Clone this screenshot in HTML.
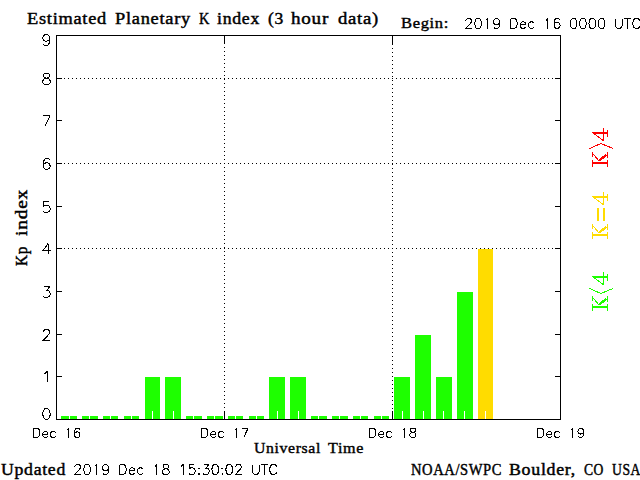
<!DOCTYPE html>
<html><head><meta charset="utf-8"><style>
html,body{margin:0;padding:0;background:#fff;width:640px;height:480px;overflow:hidden}
svg{display:block}
</style></head><body>
<svg width="640" height="480" viewBox="0 0 640 480">
<rect x="0" y="0" width="640" height="480" fill="#fff"/>
<g shape-rendering="crispEdges">
<rect x="61" y="416" width="16" height="3" fill="#1eff00"/>
<rect x="69" y="411" width="1" height="8" fill="#fff"/>
<rect x="82" y="416" width="16" height="3" fill="#1eff00"/>
<rect x="89" y="411" width="1" height="8" fill="#fff"/>
<rect x="103" y="416" width="15" height="3" fill="#1eff00"/>
<rect x="110" y="411" width="1" height="8" fill="#fff"/>
<rect x="124" y="416" width="15" height="3" fill="#1eff00"/>
<rect x="131" y="411" width="1" height="8" fill="#fff"/>
<rect x="145" y="377" width="15" height="42" fill="#1eff00"/>
<rect x="152" y="411" width="1" height="8" fill="#fff"/>
<rect x="165" y="377" width="16" height="42" fill="#1eff00"/>
<rect x="173" y="411" width="1" height="8" fill="#fff"/>
<rect x="186" y="416" width="16" height="3" fill="#1eff00"/>
<rect x="193" y="411" width="1" height="8" fill="#fff"/>
<rect x="207" y="416" width="16" height="3" fill="#1eff00"/>
<rect x="214" y="411" width="1" height="8" fill="#fff"/>
<rect x="228" y="416" width="15" height="3" fill="#1eff00"/>
<rect x="235" y="411" width="1" height="8" fill="#fff"/>
<rect x="249" y="416" width="15" height="3" fill="#1eff00"/>
<rect x="256" y="411" width="1" height="8" fill="#fff"/>
<rect x="269" y="377" width="16" height="42" fill="#1eff00"/>
<rect x="277" y="411" width="1" height="8" fill="#fff"/>
<rect x="290" y="377" width="16" height="42" fill="#1eff00"/>
<rect x="298" y="411" width="1" height="8" fill="#fff"/>
<rect x="311" y="416" width="16" height="3" fill="#1eff00"/>
<rect x="318" y="411" width="1" height="8" fill="#fff"/>
<rect x="332" y="416" width="16" height="3" fill="#1eff00"/>
<rect x="339" y="411" width="1" height="8" fill="#fff"/>
<rect x="353" y="416" width="15" height="3" fill="#1eff00"/>
<rect x="360" y="411" width="1" height="8" fill="#fff"/>
<rect x="374" y="416" width="15" height="3" fill="#1eff00"/>
<rect x="381" y="411" width="1" height="8" fill="#fff"/>
<rect x="394" y="377" width="16" height="42" fill="#1eff00"/>
<rect x="402" y="411" width="1" height="8" fill="#fff"/>
<rect x="415" y="335" width="16" height="84" fill="#1eff00"/>
<rect x="423" y="411" width="1" height="8" fill="#fff"/>
<rect x="436" y="377" width="16" height="42" fill="#1eff00"/>
<rect x="443" y="411" width="1" height="8" fill="#fff"/>
<rect x="457" y="292" width="16" height="127" fill="#1eff00"/>
<rect x="464" y="411" width="1" height="8" fill="#fff"/>
<rect x="478" y="249" width="15" height="170" fill="#ffdc00"/>
<rect x="485" y="411" width="1" height="8" fill="#fff"/>
<rect x="224" y="36" width="1" height="8" fill="#000"/>
<rect x="224" y="411" width="1" height="8" fill="#000"/>
<rect x="392" y="36" width="1" height="9" fill="#000"/>
<rect x="392" y="411" width="1" height="8" fill="#000"/>
<path d="M64 248h1v1h-1zM68 248h1v1h-1zM72 248h1v1h-1zM76 248h1v1h-1zM80 248h1v1h-1zM84 248h1v1h-1zM88 248h1v1h-1zM92 248h1v1h-1zM96 248h1v1h-1zM100 248h1v1h-1zM104 248h1v1h-1zM108 248h1v1h-1zM112 248h1v1h-1zM116 248h1v1h-1zM120 248h1v1h-1zM124 248h1v1h-1zM128 248h1v1h-1zM132 248h1v1h-1zM136 248h1v1h-1zM140 248h1v1h-1zM144 248h1v1h-1zM148 248h1v1h-1zM152 248h1v1h-1zM156 248h1v1h-1zM160 248h1v1h-1zM164 248h1v1h-1zM168 248h1v1h-1zM172 248h1v1h-1zM176 248h1v1h-1zM180 248h1v1h-1zM184 248h1v1h-1zM188 248h1v1h-1zM192 248h1v1h-1zM196 248h1v1h-1zM200 248h1v1h-1zM204 248h1v1h-1zM208 248h1v1h-1zM212 248h1v1h-1zM216 248h1v1h-1zM220 248h1v1h-1zM224 248h1v1h-1zM228 248h1v1h-1zM232 248h1v1h-1zM236 248h1v1h-1zM240 248h1v1h-1zM244 248h1v1h-1zM248 248h1v1h-1zM252 248h1v1h-1zM256 248h1v1h-1zM260 248h1v1h-1zM264 248h1v1h-1zM268 248h1v1h-1zM272 248h1v1h-1zM276 248h1v1h-1zM280 248h1v1h-1zM284 248h1v1h-1zM288 248h1v1h-1zM292 248h1v1h-1zM296 248h1v1h-1zM300 248h1v1h-1zM304 248h1v1h-1zM308 248h1v1h-1zM312 248h1v1h-1zM316 248h1v1h-1zM320 248h1v1h-1zM324 248h1v1h-1zM328 248h1v1h-1zM332 248h1v1h-1zM336 248h1v1h-1zM340 248h1v1h-1zM344 248h1v1h-1zM348 248h1v1h-1zM352 248h1v1h-1zM356 248h1v1h-1zM360 248h1v1h-1zM364 248h1v1h-1zM368 248h1v1h-1zM372 248h1v1h-1zM376 248h1v1h-1zM380 248h1v1h-1zM384 248h1v1h-1zM388 248h1v1h-1zM392 248h1v1h-1zM396 248h1v1h-1zM400 248h1v1h-1zM404 248h1v1h-1zM408 248h1v1h-1zM412 248h1v1h-1zM416 248h1v1h-1zM420 248h1v1h-1zM424 248h1v1h-1zM428 248h1v1h-1zM432 248h1v1h-1zM436 248h1v1h-1zM440 248h1v1h-1zM444 248h1v1h-1zM448 248h1v1h-1zM452 248h1v1h-1zM456 248h1v1h-1zM460 248h1v1h-1zM464 248h1v1h-1zM468 248h1v1h-1zM472 248h1v1h-1zM476 248h1v1h-1zM480 248h1v1h-1zM484 248h1v1h-1zM488 248h1v1h-1zM492 248h1v1h-1zM496 248h1v1h-1zM500 248h1v1h-1zM504 248h1v1h-1zM508 248h1v1h-1zM512 248h1v1h-1zM516 248h1v1h-1zM520 248h1v1h-1zM524 248h1v1h-1zM528 248h1v1h-1zM532 248h1v1h-1zM536 248h1v1h-1zM540 248h1v1h-1zM544 248h1v1h-1zM548 248h1v1h-1zM552 248h1v1h-1zM64 163h1v1h-1zM68 163h1v1h-1zM72 163h1v1h-1zM76 163h1v1h-1zM80 163h1v1h-1zM84 163h1v1h-1zM88 163h1v1h-1zM92 163h1v1h-1zM96 163h1v1h-1zM100 163h1v1h-1zM104 163h1v1h-1zM108 163h1v1h-1zM112 163h1v1h-1zM116 163h1v1h-1zM120 163h1v1h-1zM124 163h1v1h-1zM128 163h1v1h-1zM132 163h1v1h-1zM136 163h1v1h-1zM140 163h1v1h-1zM144 163h1v1h-1zM148 163h1v1h-1zM152 163h1v1h-1zM156 163h1v1h-1zM160 163h1v1h-1zM164 163h1v1h-1zM168 163h1v1h-1zM172 163h1v1h-1zM176 163h1v1h-1zM180 163h1v1h-1zM184 163h1v1h-1zM188 163h1v1h-1zM192 163h1v1h-1zM196 163h1v1h-1zM200 163h1v1h-1zM204 163h1v1h-1zM208 163h1v1h-1zM212 163h1v1h-1zM216 163h1v1h-1zM220 163h1v1h-1zM224 163h1v1h-1zM228 163h1v1h-1zM232 163h1v1h-1zM236 163h1v1h-1zM240 163h1v1h-1zM244 163h1v1h-1zM248 163h1v1h-1zM252 163h1v1h-1zM256 163h1v1h-1zM260 163h1v1h-1zM264 163h1v1h-1zM268 163h1v1h-1zM272 163h1v1h-1zM276 163h1v1h-1zM280 163h1v1h-1zM284 163h1v1h-1zM288 163h1v1h-1zM292 163h1v1h-1zM296 163h1v1h-1zM300 163h1v1h-1zM304 163h1v1h-1zM308 163h1v1h-1zM312 163h1v1h-1zM316 163h1v1h-1zM320 163h1v1h-1zM324 163h1v1h-1zM328 163h1v1h-1zM332 163h1v1h-1zM336 163h1v1h-1zM340 163h1v1h-1zM344 163h1v1h-1zM348 163h1v1h-1zM352 163h1v1h-1zM356 163h1v1h-1zM360 163h1v1h-1zM364 163h1v1h-1zM368 163h1v1h-1zM372 163h1v1h-1zM376 163h1v1h-1zM380 163h1v1h-1zM384 163h1v1h-1zM388 163h1v1h-1zM392 163h1v1h-1zM396 163h1v1h-1zM400 163h1v1h-1zM404 163h1v1h-1zM408 163h1v1h-1zM412 163h1v1h-1zM416 163h1v1h-1zM420 163h1v1h-1zM424 163h1v1h-1zM428 163h1v1h-1zM432 163h1v1h-1zM436 163h1v1h-1zM440 163h1v1h-1zM444 163h1v1h-1zM448 163h1v1h-1zM452 163h1v1h-1zM456 163h1v1h-1zM460 163h1v1h-1zM464 163h1v1h-1zM468 163h1v1h-1zM472 163h1v1h-1zM476 163h1v1h-1zM480 163h1v1h-1zM484 163h1v1h-1zM488 163h1v1h-1zM492 163h1v1h-1zM496 163h1v1h-1zM500 163h1v1h-1zM504 163h1v1h-1zM508 163h1v1h-1zM512 163h1v1h-1zM516 163h1v1h-1zM520 163h1v1h-1zM524 163h1v1h-1zM528 163h1v1h-1zM532 163h1v1h-1zM536 163h1v1h-1zM540 163h1v1h-1zM544 163h1v1h-1zM548 163h1v1h-1zM552 163h1v1h-1zM64 78h1v1h-1zM68 78h1v1h-1zM72 78h1v1h-1zM76 78h1v1h-1zM80 78h1v1h-1zM84 78h1v1h-1zM88 78h1v1h-1zM92 78h1v1h-1zM96 78h1v1h-1zM100 78h1v1h-1zM104 78h1v1h-1zM108 78h1v1h-1zM112 78h1v1h-1zM116 78h1v1h-1zM120 78h1v1h-1zM124 78h1v1h-1zM128 78h1v1h-1zM132 78h1v1h-1zM136 78h1v1h-1zM140 78h1v1h-1zM144 78h1v1h-1zM148 78h1v1h-1zM152 78h1v1h-1zM156 78h1v1h-1zM160 78h1v1h-1zM164 78h1v1h-1zM168 78h1v1h-1zM172 78h1v1h-1zM176 78h1v1h-1zM180 78h1v1h-1zM184 78h1v1h-1zM188 78h1v1h-1zM192 78h1v1h-1zM196 78h1v1h-1zM200 78h1v1h-1zM204 78h1v1h-1zM208 78h1v1h-1zM212 78h1v1h-1zM216 78h1v1h-1zM220 78h1v1h-1zM224 78h1v1h-1zM228 78h1v1h-1zM232 78h1v1h-1zM236 78h1v1h-1zM240 78h1v1h-1zM244 78h1v1h-1zM248 78h1v1h-1zM252 78h1v1h-1zM256 78h1v1h-1zM260 78h1v1h-1zM264 78h1v1h-1zM268 78h1v1h-1zM272 78h1v1h-1zM276 78h1v1h-1zM280 78h1v1h-1zM284 78h1v1h-1zM288 78h1v1h-1zM292 78h1v1h-1zM296 78h1v1h-1zM300 78h1v1h-1zM304 78h1v1h-1zM308 78h1v1h-1zM312 78h1v1h-1zM316 78h1v1h-1zM320 78h1v1h-1zM324 78h1v1h-1zM328 78h1v1h-1zM332 78h1v1h-1zM336 78h1v1h-1zM340 78h1v1h-1zM344 78h1v1h-1zM348 78h1v1h-1zM352 78h1v1h-1zM356 78h1v1h-1zM360 78h1v1h-1zM364 78h1v1h-1zM368 78h1v1h-1zM372 78h1v1h-1zM376 78h1v1h-1zM380 78h1v1h-1zM384 78h1v1h-1zM388 78h1v1h-1zM392 78h1v1h-1zM396 78h1v1h-1zM400 78h1v1h-1zM404 78h1v1h-1zM408 78h1v1h-1zM412 78h1v1h-1zM416 78h1v1h-1zM420 78h1v1h-1zM424 78h1v1h-1zM428 78h1v1h-1zM432 78h1v1h-1zM436 78h1v1h-1zM440 78h1v1h-1zM444 78h1v1h-1zM448 78h1v1h-1zM452 78h1v1h-1zM456 78h1v1h-1zM460 78h1v1h-1zM464 78h1v1h-1zM468 78h1v1h-1zM472 78h1v1h-1zM476 78h1v1h-1zM480 78h1v1h-1zM484 78h1v1h-1zM488 78h1v1h-1zM492 78h1v1h-1zM496 78h1v1h-1zM500 78h1v1h-1zM504 78h1v1h-1zM508 78h1v1h-1zM512 78h1v1h-1zM516 78h1v1h-1zM520 78h1v1h-1zM524 78h1v1h-1zM528 78h1v1h-1zM532 78h1v1h-1zM536 78h1v1h-1zM540 78h1v1h-1zM544 78h1v1h-1zM548 78h1v1h-1zM552 78h1v1h-1zM224 47h1v1h-1zM224 51h1v1h-1zM224 55h1v1h-1zM224 59h1v1h-1zM224 63h1v1h-1zM224 67h1v1h-1zM224 71h1v1h-1zM224 75h1v1h-1zM224 79h1v1h-1zM224 83h1v1h-1zM224 87h1v1h-1zM224 91h1v1h-1zM224 95h1v1h-1zM224 99h1v1h-1zM224 103h1v1h-1zM224 107h1v1h-1zM224 111h1v1h-1zM224 115h1v1h-1zM224 119h1v1h-1zM224 123h1v1h-1zM224 127h1v1h-1zM224 131h1v1h-1zM224 135h1v1h-1zM224 139h1v1h-1zM224 143h1v1h-1zM224 147h1v1h-1zM224 151h1v1h-1zM224 155h1v1h-1zM224 159h1v1h-1zM224 163h1v1h-1zM224 167h1v1h-1zM224 171h1v1h-1zM224 175h1v1h-1zM224 179h1v1h-1zM224 183h1v1h-1zM224 187h1v1h-1zM224 191h1v1h-1zM224 195h1v1h-1zM224 199h1v1h-1zM224 203h1v1h-1zM224 207h1v1h-1zM224 211h1v1h-1zM224 215h1v1h-1zM224 219h1v1h-1zM224 223h1v1h-1zM224 227h1v1h-1zM224 231h1v1h-1zM224 235h1v1h-1zM224 239h1v1h-1zM224 243h1v1h-1zM224 247h1v1h-1zM224 251h1v1h-1zM224 255h1v1h-1zM224 259h1v1h-1zM224 263h1v1h-1zM224 267h1v1h-1zM224 271h1v1h-1zM224 275h1v1h-1zM224 279h1v1h-1zM224 283h1v1h-1zM224 287h1v1h-1zM224 291h1v1h-1zM224 295h1v1h-1zM224 299h1v1h-1zM224 303h1v1h-1zM224 307h1v1h-1zM224 311h1v1h-1zM224 315h1v1h-1zM224 319h1v1h-1zM224 323h1v1h-1zM224 327h1v1h-1zM224 331h1v1h-1zM224 335h1v1h-1zM224 339h1v1h-1zM224 343h1v1h-1zM224 347h1v1h-1zM224 351h1v1h-1zM224 355h1v1h-1zM224 359h1v1h-1zM224 363h1v1h-1zM224 367h1v1h-1zM224 371h1v1h-1zM224 375h1v1h-1zM224 379h1v1h-1zM224 383h1v1h-1zM224 387h1v1h-1zM224 391h1v1h-1zM224 395h1v1h-1zM224 399h1v1h-1zM224 403h1v1h-1zM224 407h1v1h-1zM392 48h1v1h-1zM392 52h1v1h-1zM392 56h1v1h-1zM392 60h1v1h-1zM392 64h1v1h-1zM392 68h1v1h-1zM392 72h1v1h-1zM392 76h1v1h-1zM392 80h1v1h-1zM392 84h1v1h-1zM392 88h1v1h-1zM392 92h1v1h-1zM392 96h1v1h-1zM392 100h1v1h-1zM392 104h1v1h-1zM392 108h1v1h-1zM392 112h1v1h-1zM392 116h1v1h-1zM392 120h1v1h-1zM392 124h1v1h-1zM392 128h1v1h-1zM392 132h1v1h-1zM392 136h1v1h-1zM392 140h1v1h-1zM392 144h1v1h-1zM392 148h1v1h-1zM392 152h1v1h-1zM392 156h1v1h-1zM392 160h1v1h-1zM392 164h1v1h-1zM392 168h1v1h-1zM392 172h1v1h-1zM392 176h1v1h-1zM392 180h1v1h-1zM392 184h1v1h-1zM392 188h1v1h-1zM392 192h1v1h-1zM392 196h1v1h-1zM392 200h1v1h-1zM392 204h1v1h-1zM392 208h1v1h-1zM392 212h1v1h-1zM392 216h1v1h-1zM392 220h1v1h-1zM392 224h1v1h-1zM392 228h1v1h-1zM392 232h1v1h-1zM392 236h1v1h-1zM392 240h1v1h-1zM392 244h1v1h-1zM392 248h1v1h-1zM392 252h1v1h-1zM392 256h1v1h-1zM392 260h1v1h-1zM392 264h1v1h-1zM392 268h1v1h-1zM392 272h1v1h-1zM392 276h1v1h-1zM392 280h1v1h-1zM392 284h1v1h-1zM392 288h1v1h-1zM392 292h1v1h-1zM392 296h1v1h-1zM392 300h1v1h-1zM392 304h1v1h-1zM392 308h1v1h-1zM392 312h1v1h-1zM392 316h1v1h-1zM392 320h1v1h-1zM392 324h1v1h-1zM392 328h1v1h-1zM392 332h1v1h-1zM392 336h1v1h-1zM392 340h1v1h-1zM392 344h1v1h-1zM392 348h1v1h-1zM392 352h1v1h-1zM392 356h1v1h-1zM392 360h1v1h-1zM392 364h1v1h-1zM392 368h1v1h-1zM392 372h1v1h-1zM392 376h1v1h-1zM392 380h1v1h-1zM392 384h1v1h-1zM392 388h1v1h-1zM392 392h1v1h-1zM392 396h1v1h-1zM392 400h1v1h-1zM392 404h1v1h-1zM392 408h1v1h-1z" fill="#000"/>
<rect x="57" y="419" width="5" height="1" fill="#000"/>
<rect x="555" y="419" width="5" height="1" fill="#000"/>
<rect x="57" y="376" width="5" height="1" fill="#000"/>
<rect x="555" y="376" width="5" height="1" fill="#000"/>
<rect x="57" y="334" width="5" height="1" fill="#000"/>
<rect x="555" y="334" width="5" height="1" fill="#000"/>
<rect x="57" y="291" width="5" height="1" fill="#000"/>
<rect x="555" y="291" width="5" height="1" fill="#000"/>
<rect x="57" y="248" width="5" height="1" fill="#000"/>
<rect x="555" y="248" width="5" height="1" fill="#000"/>
<rect x="57" y="206" width="5" height="1" fill="#000"/>
<rect x="555" y="206" width="5" height="1" fill="#000"/>
<rect x="57" y="163" width="5" height="1" fill="#000"/>
<rect x="555" y="163" width="5" height="1" fill="#000"/>
<rect x="57" y="120" width="5" height="1" fill="#000"/>
<rect x="555" y="120" width="5" height="1" fill="#000"/>
<rect x="57" y="78" width="5" height="1" fill="#000"/>
<rect x="555" y="78" width="5" height="1" fill="#000"/>
<rect x="57" y="35" width="5" height="1" fill="#000"/>
<rect x="555" y="35" width="5" height="1" fill="#000"/>
<rect x="56" y="35" width="505" height="1" fill="#000"/>
<rect x="56" y="419" width="505" height="1" fill="#000"/>
<rect x="56" y="35" width="1" height="385" fill="#000"/>
<rect x="560" y="35" width="1" height="385" fill="#000"/>
</g>
<g>
<g transform="translate(27,24) scale(1,1.05)"><text x="0" y="0" font-size="15" font-family="'Liberation Serif', serif" letter-spacing="0.6" fill="#000" stroke="#000" stroke-width="0.4" textLength="80" lengthAdjust="spacingAndGlyphs">Estimated</text></g>
<g transform="translate(115,24) scale(1,1.05)"><text x="0" y="0" font-size="15" font-family="'Liberation Serif', serif" letter-spacing="0.6" fill="#000" stroke="#000" stroke-width="0.4" textLength="76" lengthAdjust="spacingAndGlyphs">Planetary</text></g>
<g transform="translate(199,24) scale(1,1.05)"><text x="0" y="0" font-size="15" font-family="'Liberation Serif', serif" letter-spacing="0.6" fill="#000" stroke="#000" stroke-width="0.4" textLength="11" lengthAdjust="spacingAndGlyphs">K</text></g>
<g transform="translate(217,24) scale(1,1.05)"><text x="0" y="0" font-size="15" font-family="'Liberation Serif', serif" letter-spacing="0.6" fill="#000" stroke="#000" stroke-width="0.4" textLength="43" lengthAdjust="spacingAndGlyphs">index</text></g>
<g transform="translate(268,24) scale(1,1.05)"><text x="0" y="0" font-size="15" font-family="'Liberation Serif', serif" letter-spacing="0.6" fill="#000" stroke="#000" stroke-width="0.4" textLength="16" lengthAdjust="spacingAndGlyphs">(3</text></g>
<g transform="translate(291,24) scale(1,1.05)"><text x="0" y="0" font-size="15" font-family="'Liberation Serif', serif" letter-spacing="0.6" fill="#000" stroke="#000" stroke-width="0.4" textLength="38" lengthAdjust="spacingAndGlyphs">hour</text></g>
<g transform="translate(338,24) scale(1,1.05)"><text x="0" y="0" font-size="15" font-family="'Liberation Serif', serif" letter-spacing="0.6" fill="#000" stroke="#000" stroke-width="0.4" textLength="41" lengthAdjust="spacingAndGlyphs">data)</text></g>
<g transform="translate(401,28) scale(1,1.02)"><text x="0" y="0" font-size="15" font-family="'Liberation Serif', serif" letter-spacing="0.6" fill="#000" stroke="#000" stroke-width="0.4" textLength="48" lengthAdjust="spacingAndGlyphs">Begin:</text></g>
<g transform="translate(254,453) scale(1,0.96)"><text x="0" y="0" font-size="15" font-family="'Liberation Serif', serif" letter-spacing="0.6" fill="#000" stroke="#000" stroke-width="0.4" textLength="67" lengthAdjust="spacingAndGlyphs">Universal</text></g>
<g transform="translate(328,453) scale(1,0.96)"><text x="0" y="0" font-size="15" font-family="'Liberation Serif', serif" letter-spacing="0.6" fill="#000" stroke="#000" stroke-width="0.4" textLength="36" lengthAdjust="spacingAndGlyphs">Time</text></g>
<g transform="translate(1,475) scale(1,1.05)"><text x="0" y="0" font-size="15" font-family="'Liberation Serif', serif" letter-spacing="0.6" fill="#000" stroke="#000" stroke-width="0.4" textLength="65" lengthAdjust="spacingAndGlyphs">Updated</text></g>
<path d="M465.97 20.88 L465.97 20.41 L466.43 19.46 L466.9 18.98 L467.83 18.5 L469.69 18.5 L470.63 18.98 L471.09 19.46 L471.56 20.41 L471.56 21.36 L471.09 22.31 L470.16 23.74 L465.5 28.5 L472.02 28.5M477.62 18.5 L476.22 18.98 L475.29 20.41 L474.82 22.79 L474.82 24.22 L475.29 26.6 L476.22 28.02 L477.62 28.5 L478.55 28.5 L479.95 28.02 L480.88 26.6 L481.34 24.22 L481.34 22.79 L480.88 20.41 L479.95 18.98 L478.55 18.5 L477.62 18.5M485.54 20.41 L486.47 19.93 L487.87 18.5 L487.87 28.5M499.52 21.84 L499.05 23.26 L498.12 24.22 L496.72 24.69 L496.26 24.69 L494.86 24.22 L493.93 23.26 L493.46 21.84 L493.46 21.36 L493.93 19.93 L494.86 18.98 L496.26 18.5 L496.72 18.5 L498.12 18.98 L499.05 19.93 L499.52 21.84 L499.52 24.22 L499.05 26.6 L498.12 28.02 L496.72 28.5 L495.79 28.5 L494.39 28.02 L493.93 27.07M510.7 18.5 L510.7 28.5M510.7 18.5 L513.96 18.5 L515.36 18.98 L516.29 19.93 L516.76 20.88 L517.23 22.31 L517.23 24.69 L516.76 26.12 L516.29 27.07 L515.36 28.02 L513.96 28.5 L510.7 28.5M520.02 24.69 L525.61 24.69 L525.61 23.74 L525.15 22.79 L524.68 22.31 L523.75 21.84 L522.35 21.84 L521.42 22.31 L520.49 23.26 L520.02 24.69 L520.02 25.64 L520.49 27.07 L521.42 28.02 L522.35 28.5 L523.75 28.5 L524.68 28.02 L525.61 27.07M534 23.26 L533.07 22.31 L532.14 21.84 L530.74 21.84 L529.81 22.31 L528.88 23.26 L528.41 24.69 L528.41 25.64 L528.88 27.07 L529.81 28.02 L530.74 28.5 L532.14 28.5 L533.07 28.02 L534 27.07M545.65 20.41 L546.58 19.93 L547.98 18.5 L547.98 28.5M559.63 19.93 L559.17 18.98 L557.77 18.5 L556.84 18.5 L555.44 18.98 L554.51 20.41 L554.04 22.79 L554.04 25.17 L554.51 27.07 L555.44 28.02 L556.84 28.5 L557.3 28.5 L558.7 28.02 L559.63 27.07 L560.1 25.64 L560.1 25.17 L559.63 23.74 L558.7 22.79 L557.3 22.31 L556.84 22.31 L555.44 22.79 L554.51 23.74 L554.04 25.17M573.15 18.5 L571.75 18.98 L570.82 20.41 L570.35 22.79 L570.35 24.22 L570.82 26.6 L571.75 28.02 L573.15 28.5 L574.08 28.5 L575.48 28.02 L576.41 26.6 L576.87 24.22 L576.87 22.79 L576.41 20.41 L575.48 18.98 L574.08 18.5 L573.15 18.5M582.47 18.5 L581.07 18.98 L580.14 20.41 L579.67 22.79 L579.67 24.22 L580.14 26.6 L581.07 28.02 L582.47 28.5 L583.4 28.5 L584.8 28.02 L585.73 26.6 L586.19 24.22 L586.19 22.79 L585.73 20.41 L584.8 18.98 L583.4 18.5 L582.47 18.5M591.79 18.5 L590.39 18.98 L589.46 20.41 L588.99 22.79 L588.99 24.22 L589.46 26.6 L590.39 28.02 L591.79 28.5 L592.72 28.5 L594.12 28.02 L595.05 26.6 L595.51 24.22 L595.51 22.79 L595.05 20.41 L594.12 18.98 L592.72 18.5 L591.79 18.5M601.11 18.5 L599.71 18.98 L598.78 20.41 L598.31 22.79 L598.31 24.22 L598.78 26.6 L599.71 28.02 L601.11 28.5 L602.04 28.5 L603.44 28.02 L604.37 26.6 L604.83 24.22 L604.83 22.79 L604.37 20.41 L603.44 18.98 L602.04 18.5 L601.11 18.5M615.55 18.5 L615.55 25.64 L616.02 27.07 L616.95 28.02 L618.35 28.5 L619.28 28.5 L620.68 28.02 L621.61 27.07 L622.08 25.64 L622.08 18.5M627.67 18.5 L627.67 28.5M624.41 18.5 L630.93 18.5M639.78 20.88 L639.32 19.93 L638.39 18.98 L637.45 18.5 L635.59 18.5 L634.66 18.98 L633.73 19.93 L633.26 20.88 L632.79 22.31 L632.79 24.69 L633.26 26.12 L633.73 27.07 L634.66 28.02 L635.59 28.5 L637.45 28.5 L638.39 28.02 L639.32 27.07 L639.78 26.12M45.98 408.54 L44.42 409.06 L43.38 410.62 L42.86 413.22 L42.86 414.78 L43.38 417.38 L44.42 418.94 L45.98 419.46 L47.02 419.46 L48.58 418.94 L49.62 417.38 L50.14 414.78 L50.14 413.22 L49.62 410.62 L48.58 409.06 L47.02 408.54 L45.98 408.54M44.42 373.62 L45.46 373.1 L47.02 371.54 L47.02 382.46M43.38 332.14 L43.38 331.62 L43.9 330.58 L44.42 330.06 L45.46 329.54 L47.54 329.54 L48.58 330.06 L49.1 330.58 L49.62 331.62 L49.62 332.66 L49.1 333.7 L48.06 335.26 L42.86 340.46 L50.14 340.46M43.9 286.54 L49.62 286.54 L46.5 290.7 L48.06 290.7 L49.1 291.22 L49.62 291.74 L50.14 293.3 L50.14 294.34 L49.62 295.9 L48.58 296.94 L47.02 297.46 L45.46 297.46 L43.9 296.94 L43.38 296.42 L42.86 295.38M48.06 243.54 L42.86 250.82 L50.66 250.82M48.06 243.54 L48.06 254.46M49.1 201.54 L43.9 201.54 L43.38 206.22 L43.9 205.7 L45.46 205.18 L47.02 205.18 L48.58 205.7 L49.62 206.74 L50.14 208.3 L50.14 209.34 L49.62 210.9 L48.58 211.94 L47.02 212.46 L45.46 212.46 L43.9 211.94 L43.38 211.42 L42.86 210.38M49.62 160.1 L49.1 159.06 L47.54 158.54 L46.5 158.54 L44.94 159.06 L43.9 160.62 L43.38 163.22 L43.38 165.82 L43.9 167.9 L44.94 168.94 L46.5 169.46 L47.02 169.46 L48.58 168.94 L49.62 167.9 L50.14 166.34 L50.14 165.82 L49.62 164.26 L48.58 163.22 L47.02 162.7 L46.5 162.7 L44.94 163.22 L43.9 164.26 L43.38 165.82M50.14 115.54 L44.94 126.46M42.86 115.54 L50.14 115.54M45.46 73.54 L43.9 74.06 L43.38 75.1 L43.38 76.14 L43.9 77.18 L44.94 77.7 L47.02 78.22 L48.58 78.74 L49.62 79.78 L50.14 80.82 L50.14 82.38 L49.62 83.42 L49.1 83.94 L47.54 84.46 L45.46 84.46 L43.9 83.94 L43.38 83.42 L42.86 82.38 L42.86 80.82 L43.38 79.78 L44.42 78.74 L45.98 78.22 L48.06 77.7 L49.1 77.18 L49.62 76.14 L49.62 75.1 L49.1 74.06 L47.54 73.54 L45.46 73.54M49.62 38.18 L49.1 39.74 L48.06 40.78 L46.5 41.3 L45.98 41.3 L44.42 40.78 L43.38 39.74 L42.86 38.18 L42.86 37.66 L43.38 36.1 L44.42 35.06 L45.98 34.54 L46.5 34.54 L48.06 35.06 L49.1 36.1 L49.62 38.18 L49.62 40.78 L49.1 43.38 L48.06 44.94 L46.5 45.46 L45.46 45.46 L43.9 44.94 L43.38 43.9M33.88 428.37 L33.88 437.5M33.88 428.37 L36.92 428.37 L38.23 428.8 L39.1 429.67 L39.53 430.54 L39.97 431.85 L39.97 434.02 L39.53 435.32 L39.1 436.19 L38.23 437.06 L36.92 437.5 L33.88 437.5M42.58 434.02 L47.8 434.02 L47.8 433.15 L47.36 432.28 L46.93 431.85 L46.06 431.41 L44.75 431.41 L43.88 431.85 L43.02 432.71 L42.58 434.02 L42.58 434.89 L43.02 436.19 L43.88 437.06 L44.75 437.5 L46.06 437.5 L46.93 437.06 L47.8 436.19M55.63 432.71 L54.76 431.85 L53.89 431.41 L52.58 431.41 L51.71 431.85 L50.84 432.71 L50.41 434.02 L50.41 434.89 L50.84 436.19 L51.71 437.06 L52.58 437.5 L53.89 437.5 L54.76 437.06 L55.63 436.19M66.5 430.11 L67.38 429.67 L68.68 428.37 L68.68 437.5M79.55 429.67 L79.12 428.8 L77.81 428.37 L76.94 428.37 L75.64 428.8 L74.77 430.11 L74.33 432.28 L74.33 434.45 L74.77 436.19 L75.64 437.06 L76.94 437.5 L77.38 437.5 L78.69 437.06 L79.55 436.19 L79.99 434.89 L79.99 434.45 L79.55 433.15 L78.69 432.28 L77.38 431.85 L76.94 431.85 L75.64 432.28 L74.77 433.15 L74.33 434.45M201.88 428.37 L201.88 437.5M201.88 428.37 L204.92 428.37 L206.23 428.8 L207.1 429.67 L207.53 430.54 L207.97 431.85 L207.97 434.02 L207.53 435.32 L207.1 436.19 L206.23 437.06 L204.92 437.5 L201.88 437.5M210.58 434.02 L215.8 434.02 L215.8 433.15 L215.36 432.28 L214.93 431.85 L214.06 431.41 L212.75 431.41 L211.88 431.85 L211.01 432.71 L210.58 434.02 L210.58 434.89 L211.01 436.19 L211.88 437.06 L212.75 437.5 L214.06 437.5 L214.93 437.06 L215.8 436.19M223.63 432.71 L222.76 431.85 L221.89 431.41 L220.58 431.41 L219.72 431.85 L218.84 432.71 L218.41 434.02 L218.41 434.89 L218.84 436.19 L219.72 437.06 L220.58 437.5 L221.89 437.5 L222.76 437.06 L223.63 436.19M234.51 430.11 L235.38 429.67 L236.68 428.37 L236.68 437.5M247.99 428.37 L243.64 437.5M241.9 428.37 L247.99 428.37M369.88 428.37 L369.88 437.5M369.88 428.37 L372.93 428.37 L374.23 428.8 L375.1 429.67 L375.53 430.54 L375.97 431.85 L375.97 434.02 L375.53 435.32 L375.1 436.19 L374.23 437.06 L372.93 437.5 L369.88 437.5M378.58 434.02 L383.8 434.02 L383.8 433.15 L383.36 432.28 L382.93 431.85 L382.06 431.41 L380.75 431.41 L379.88 431.85 L379.01 432.71 L378.58 434.02 L378.58 434.89 L379.01 436.19 L379.88 437.06 L380.75 437.5 L382.06 437.5 L382.93 437.06 L383.8 436.19M391.63 432.71 L390.76 431.85 L389.89 431.41 L388.58 431.41 L387.71 431.85 L386.84 432.71 L386.41 434.02 L386.41 434.89 L386.84 436.19 L387.71 437.06 L388.58 437.5 L389.89 437.5 L390.76 437.06 L391.63 436.19M402.5 430.11 L403.37 429.67 L404.68 428.37 L404.68 437.5M412.07 428.37 L410.77 428.8 L410.33 429.67 L410.33 430.54 L410.77 431.41 L411.64 431.85 L413.38 432.28 L414.68 432.71 L415.55 433.58 L415.99 434.45 L415.99 435.76 L415.55 436.63 L415.12 437.06 L413.81 437.5 L412.07 437.5 L410.77 437.06 L410.33 436.63 L409.9 435.76 L409.9 434.45 L410.33 433.58 L411.2 432.71 L412.51 432.28 L414.25 431.85 L415.12 431.41 L415.55 430.54 L415.55 429.67 L415.12 428.8 L413.81 428.37 L412.07 428.37M537.88 428.37 L537.88 437.5M537.88 428.37 L540.92 428.37 L542.23 428.8 L543.1 429.67 L543.53 430.54 L543.97 431.85 L543.97 434.02 L543.53 435.32 L543.1 436.19 L542.23 437.06 L540.92 437.5 L537.88 437.5M546.58 434.02 L551.8 434.02 L551.8 433.15 L551.37 432.28 L550.93 431.85 L550.06 431.41 L548.75 431.41 L547.88 431.85 L547.01 432.71 L546.58 434.02 L546.58 434.89 L547.01 436.19 L547.88 437.06 L548.75 437.5 L550.06 437.5 L550.93 437.06 L551.8 436.19M559.63 432.71 L558.76 431.85 L557.89 431.41 L556.59 431.41 L555.72 431.85 L554.85 432.71 L554.41 434.02 L554.41 434.89 L554.85 436.19 L555.72 437.06 L556.59 437.5 L557.89 437.5 L558.76 437.06 L559.63 436.19M570.51 430.11 L571.38 429.67 L572.68 428.37 L572.68 437.5M583.56 431.41 L583.12 432.71 L582.25 433.58 L580.95 434.02 L580.51 434.02 L579.21 433.58 L578.34 432.71 L577.9 431.41 L577.9 430.98 L578.34 429.67 L579.21 428.8 L580.51 428.37 L580.95 428.37 L582.25 428.8 L583.12 429.67 L583.56 431.41 L583.56 433.58 L583.12 435.76 L582.25 437.06 L580.95 437.5 L580.08 437.5 L578.77 437.06 L578.34 436.19M74.97 466.88 L74.97 466.41 L75.43 465.46 L75.9 464.98 L76.83 464.5 L78.69 464.5 L79.63 464.98 L80.09 465.46 L80.56 466.41 L80.56 467.36 L80.09 468.31 L79.16 469.74 L74.5 474.5 L81.02 474.5M86.62 464.5 L85.22 464.98 L84.29 466.41 L83.82 468.79 L83.82 470.22 L84.29 472.6 L85.22 474.02 L86.62 474.5 L87.55 474.5 L88.95 474.02 L89.88 472.6 L90.34 470.22 L90.34 468.79 L89.88 466.41 L88.95 464.98 L87.55 464.5 L86.62 464.5M94.54 466.41 L95.47 465.93 L96.87 464.5 L96.87 474.5M108.52 467.84 L108.05 469.26 L107.12 470.22 L105.72 470.69 L105.26 470.69 L103.86 470.22 L102.93 469.26 L102.46 467.84 L102.46 467.36 L102.93 465.93 L103.86 464.98 L105.26 464.5 L105.72 464.5 L107.12 464.98 L108.05 465.93 L108.52 467.84 L108.52 470.22 L108.05 472.6 L107.12 474.02 L105.72 474.5 L104.79 474.5 L103.39 474.02 L102.93 473.07M119.7 464.5 L119.7 474.5M119.7 464.5 L122.96 464.5 L124.36 464.98 L125.29 465.93 L125.76 466.88 L126.23 468.31 L126.23 470.69 L125.76 472.12 L125.29 473.07 L124.36 474.02 L122.96 474.5 L119.7 474.5M129.02 470.69 L134.61 470.69 L134.61 469.74 L134.15 468.79 L133.68 468.31 L132.75 467.84 L131.35 467.84 L130.42 468.31 L129.49 469.26 L129.02 470.69 L129.02 471.64 L129.49 473.07 L130.42 474.02 L131.35 474.5 L132.75 474.5 L133.68 474.02 L134.61 473.07M143 469.26 L142.07 468.31 L141.14 467.84 L139.74 467.84 L138.81 468.31 L137.88 469.26 L137.41 470.69 L137.41 471.64 L137.88 473.07 L138.81 474.02 L139.74 474.5 L141.14 474.5 L142.07 474.02 L143 473.07M154.65 466.41 L155.58 465.93 L156.98 464.5 L156.98 474.5M164.9 464.5 L163.51 464.98 L163.04 465.93 L163.04 466.88 L163.51 467.84 L164.44 468.31 L166.3 468.79 L167.7 469.26 L168.63 470.22 L169.1 471.17 L169.1 472.6 L168.63 473.55 L168.17 474.02 L166.77 474.5 L164.9 474.5 L163.51 474.02 L163.04 473.55 L162.57 472.6 L162.57 471.17 L163.04 470.22 L163.97 469.26 L165.37 468.79 L167.23 468.31 L168.17 467.84 L168.63 466.88 L168.63 465.93 L168.17 464.98 L166.77 464.5 L164.9 464.5M180.75 466.41 L181.68 465.93 L183.08 464.5 L183.08 474.5M194.26 464.5 L189.6 464.5 L189.14 468.79 L189.6 468.31 L191 467.84 L192.4 467.84 L193.8 468.31 L194.73 469.26 L195.19 470.69 L195.19 471.64 L194.73 473.07 L193.8 474.02 L192.4 474.5 L191 474.5 L189.6 474.02 L189.14 473.55 L188.67 472.6M198.92 467.84 L198.46 468.31 L198.92 468.79 L199.39 468.31 L198.92 467.84M198.92 473.55 L198.46 474.02 L198.92 474.5 L199.39 474.02 L198.92 473.55M203.58 464.5 L208.71 464.5 L205.91 468.31 L207.31 468.31 L208.24 468.79 L208.71 469.26 L209.17 470.69 L209.17 471.64 L208.71 473.07 L207.78 474.02 L206.38 474.5 L204.98 474.5 L203.58 474.02 L203.12 473.55 L202.65 472.6M214.77 464.5 L213.37 464.98 L212.44 466.41 L211.97 468.79 L211.97 470.22 L212.44 472.6 L213.37 474.02 L214.77 474.5 L215.7 474.5 L217.1 474.02 L218.03 472.6 L218.49 470.22 L218.49 468.79 L218.03 466.41 L217.1 464.98 L215.7 464.5 L214.77 464.5M222.22 467.84 L221.76 468.31 L222.22 468.79 L222.69 468.31 L222.22 467.84M222.22 473.55 L221.76 474.02 L222.22 474.5 L222.69 474.02 L222.22 473.55M228.75 464.5 L227.35 464.98 L226.42 466.41 L225.95 468.79 L225.95 470.22 L226.42 472.6 L227.35 474.02 L228.75 474.5 L229.68 474.5 L231.08 474.02 L232.01 472.6 L232.47 470.22 L232.47 468.79 L232.01 466.41 L231.08 464.98 L229.68 464.5 L228.75 464.5M235.74 466.88 L235.74 466.41 L236.2 465.46 L236.67 464.98 L237.6 464.5 L239.46 464.5 L240.4 464.98 L240.86 465.46 L241.33 466.41 L241.33 467.36 L240.86 468.31 L239.93 469.74 L235.27 474.5 L241.79 474.5M252.51 464.5 L252.51 471.64 L252.98 473.07 L253.91 474.02 L255.31 474.5 L256.24 474.5 L257.64 474.02 L258.57 473.07 L259.04 471.64 L259.04 464.5M264.63 464.5 L264.63 474.5M261.37 464.5 L267.89 464.5M276.74 466.88 L276.28 465.93 L275.35 464.98 L274.41 464.5 L272.55 464.5 L271.62 464.98 L270.69 465.93 L270.22 466.88 L269.75 468.31 L269.75 470.69 L270.22 472.12 L270.69 473.07 L271.62 474.02 L272.55 474.5 L274.41 474.5 L275.35 474.02 L276.28 473.07 L276.74 472.12" fill="none" stroke="#000" stroke-width="1" stroke-linejoin="round" shape-rendering="crispEdges"/>
<g transform="translate(411,475) scale(1,1.05)"><text x="0" y="0" font-size="15" font-family="'Liberation Serif', serif" letter-spacing="0.6" fill="#000" stroke="#000" stroke-width="0.4" textLength="91" lengthAdjust="spacingAndGlyphs">NOAA/SWPC</text></g>
<g transform="translate(509,475) scale(1,1.05)"><text x="0" y="0" font-size="15" font-family="'Liberation Serif', serif" letter-spacing="0.6" fill="#000" stroke="#000" stroke-width="0.4" textLength="67" lengthAdjust="spacingAndGlyphs">Boulder,</text></g>
<g transform="translate(584,475) scale(1,1.05)"><text x="0" y="0" font-size="15" font-family="'Liberation Serif', serif" letter-spacing="0.6" fill="#000" stroke="#000" stroke-width="0.4" textLength="20" lengthAdjust="spacingAndGlyphs">CO</text></g>
<g transform="translate(612,475) scale(1,1.05)"><text x="0" y="0" font-size="15" font-family="'Liberation Serif', serif" letter-spacing="0.6" fill="#000" stroke="#000" stroke-width="0.4" textLength="29" lengthAdjust="spacingAndGlyphs">USA</text></g>
<g transform="translate(27,266) rotate(-90) scale(1,1.05)"><text x="0" y="0" font-size="15" font-family="'Liberation Serif', serif" letter-spacing="0.6" stroke="#000" stroke-width="0.4" textLength="20" lengthAdjust="spacingAndGlyphs">Kp</text></g>
<g transform="translate(27,236) rotate(-90) scale(1,1.05)"><text x="0" y="0" font-size="15" font-family="'Liberation Serif', serif" letter-spacing="0.6" stroke="#000" stroke-width="0.4" textLength="47" lengthAdjust="spacingAndGlyphs">index</text></g>
<g fill="#ff0000" shape-rendering="crispEdges"><rect x="592" y="162" width="16" height="2"/><rect x="592" y="160" width="1" height="7"/><rect x="607" y="160" width="1" height="7"/><rect x="592" y="152" width="1" height="5"/><rect x="607" y="152" width="1" height="6"/></g>
<path d="M593.5 154.5 L599.5 161.5" stroke="#ff0000" stroke-width="1" fill="none" shape-rendering="crispEdges"/>
<path d="M606.5 154.5 L599.5 160.5" stroke="#ff0000" stroke-width="2.2" fill="none" shape-rendering="crispEdges"/>
<g fill="#ff0000" shape-rendering="crispEdges"><rect x="593" y="132" width="14" height="2"/><rect x="607" y="130" width="1" height="7"/><rect x="603" y="128" width="1" height="13"/></g>
<path d="M592.5 132.5 L603 140.5" stroke="#ff0000" stroke-width="1" fill="none" shape-rendering="crispEdges"/>
<polyline points="589.5,148.5 601,143.5 613,148.5" fill="none" stroke="#ff0000" stroke-width="1" shape-rendering="crispEdges"/>
<g fill="#ffdc00" shape-rendering="crispEdges"><rect x="592" y="234" width="16" height="2"/><rect x="592" y="232" width="1" height="7"/><rect x="607" y="232" width="1" height="7"/><rect x="592" y="224" width="1" height="5"/><rect x="607" y="224" width="1" height="6"/></g>
<path d="M593.5 226.5 L599.5 233.5" stroke="#ffdc00" stroke-width="1" fill="none" shape-rendering="crispEdges"/>
<path d="M606.5 226.5 L599.5 232.5" stroke="#ffdc00" stroke-width="2.2" fill="none" shape-rendering="crispEdges"/>
<g fill="#ffdc00" shape-rendering="crispEdges"><rect x="593" y="196" width="14" height="2"/><rect x="607" y="194" width="1" height="7"/><rect x="603" y="192" width="1" height="13"/></g>
<path d="M592.5 196.5 L603 204.5" stroke="#ffdc00" stroke-width="1" fill="none" shape-rendering="crispEdges"/>
<rect x="597" y="208" width="2" height="13" fill="#ffdc00"/><rect x="603" y="208" width="2" height="13" fill="#ffdc00"/>
<g fill="#1eff00" shape-rendering="crispEdges"><rect x="592" y="306" width="16" height="2"/><rect x="592" y="304" width="1" height="7"/><rect x="607" y="304" width="1" height="7"/><rect x="592" y="296" width="1" height="5"/><rect x="607" y="296" width="1" height="6"/></g>
<path d="M593.5 298.5 L599.5 305.5" stroke="#1eff00" stroke-width="1" fill="none" shape-rendering="crispEdges"/>
<path d="M606.5 298.5 L599.5 304.5" stroke="#1eff00" stroke-width="2.2" fill="none" shape-rendering="crispEdges"/>
<g fill="#1eff00" shape-rendering="crispEdges"><rect x="593" y="276" width="14" height="2"/><rect x="607" y="274" width="1" height="7"/><rect x="603" y="272" width="1" height="13"/></g>
<path d="M592.5 276.5 L603 284.5" stroke="#1eff00" stroke-width="1" fill="none" shape-rendering="crispEdges"/>
<polyline points="589.5,288.5 601,293.5 613,288.5" fill="none" stroke="#1eff00" stroke-width="1" shape-rendering="crispEdges"/>
</g>
</svg>
</body></html>
